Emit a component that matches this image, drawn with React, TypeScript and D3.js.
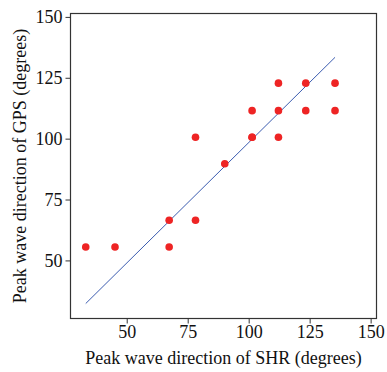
import React from "react";
import * as d3 from "d3";

const shrValues = [33, 45, 67.2, 67.2, 78, 78, 90, 101.2, 101.2, 112, 101.2, 112, 112, 123.2, 123.2, 135.2, 135.2];
const gpsValues = [55.7, 55.7, 55.7, 66.7, 66.7, 100.8, 89.9, 100.8, 100.8, 100.8, 111.7, 111.7, 123, 123, 111.7, 123, 111.7];
const fitX = [33, 135.2];
const fitY = [32.5, 133.6];
const xTicks = [50, 75, 100, 125, 150];
const yTicks = [50, 75, 100, 125, 150];
const xTitle = "Peak wave direction of SHR (degrees)";
const yTitle = "Peak wave direction of GPS (degrees)";

const W = 387, H = 372;
const L = 70.5, R = 376.5, T = 13.5, B = 318.5;
const font = "'Liberation Serif', 'Times New Roman', serif";

export default function App() {
  const x = d3.scaleLinear().domain([26.75, 152.2]).range([L, R]);
  const y = d3.scaleLinear().domain([26.35, 151.6]).range([B, T]);
  const line = d3.line<number>().x((d) => x(fitX[d])).y((d) => y(fitY[d]));
  return (
    <svg width={W} height={H} style={{ position: "absolute", left: 0, top: 0, background: "#fff" }}>
      <rect x={L} y={T} width={R - L} height={B - T} fill="none" stroke="#333" strokeWidth={1.2} />
      {xTicks.map((t) => (
        <g key={"x" + t}>
          <line x1={x(t)} x2={x(t)} y1={B} y2={B + 5} stroke="#333" strokeWidth={1} />
          <text x={x(t)} y={337.5} textAnchor="middle" fontFamily={font} fontSize={18} fill="#111">{t}</text>
        </g>
      ))}
      {yTicks.map((t) => (
        <g key={"y" + t}>
          <line x1={L - 5} x2={L} y1={y(t)} y2={y(t)} stroke="#333" strokeWidth={1} />
          <text x={62.5} y={y(t) + 6} textAnchor="end" fontFamily={font} fontSize={18} fill="#111">{t}</text>
        </g>
      ))}
      <path d={line([0, 1]) || ""} fill="none" stroke="#3b5cb0" strokeWidth={1} />
      {shrValues.map((v, i) => (
        <circle key={i} cx={x(v)} cy={y(gpsValues[i])} r={3.8} fill="#ee2424" />
      ))}
      <text x={(L + R) / 2} y={364} textAnchor="middle" fontFamily={font} fontSize={18} fill="#111">{xTitle}</text>
      <text transform={`translate(25.5, ${(T + B) / 2}) rotate(-90)`} textAnchor="middle" fontFamily={font} fontSize={18} fill="#111">{yTitle}</text>
    </svg>
  );
}
